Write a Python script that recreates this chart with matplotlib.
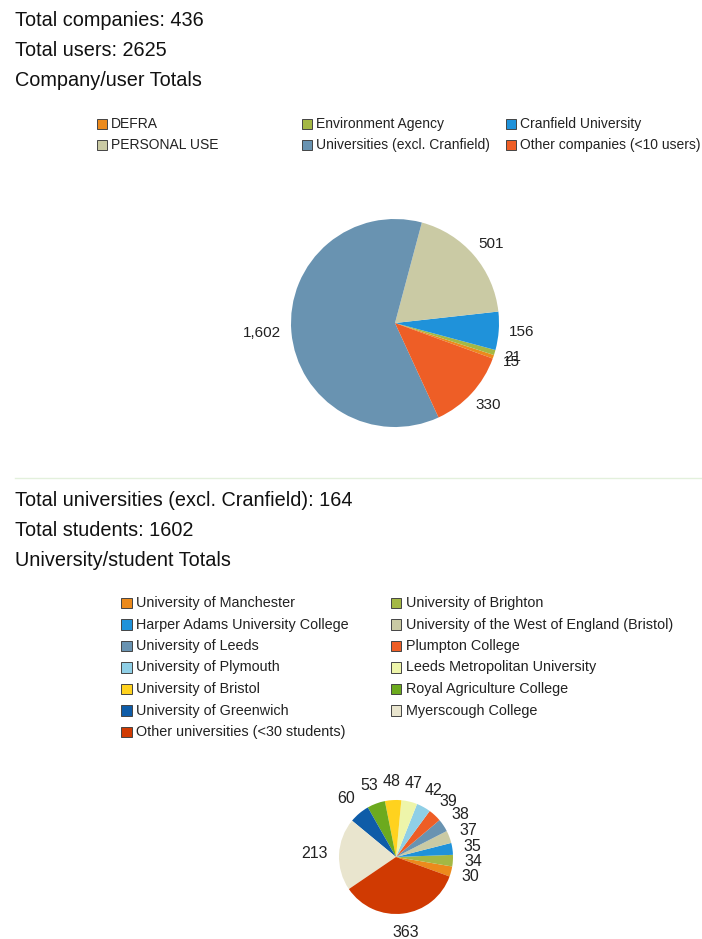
import numpy as np
import matplotlib
matplotlib.use("Agg")
import matplotlib.pyplot as plt
from matplotlib.patches import Rectangle
from matplotlib.lines import Line2D

plt.rcParams["font.family"] = ["Liberation Sans", "DejaVu Sans"]

W, H = 702, 939

# Company/user totals
company_names = ["DEFRA", "Environment Agency", "Cranfield University",
                 "PERSONAL USE", "Universities (excl. Cranfield)",
                 "Other companies (<10 users)"]
company_users = [15, 21, 156, 501, 1602, 330]
company_colors = ["#EC8A1C", "#A4B844", "#1F92DA", "#CACAA4", "#6993B1", "#EE5E26"]

# University/student totals
uni_names = ["University of Manchester", "University of Brighton",
             "Harper Adams University College", "University of the West of England (Bristol)",
             "University of Leeds", "Plumpton College",
             "University of Plymouth", "Leeds Metropolitan University",
             "University of Bristol", "Royal Agriculture College",
             "University of Greenwich", "Myerscough College",
             "Other universities (<30 students)"]
uni_students = [30, 34, 35, 37, 38, 39, 42, 47, 48, 53, 60, 213, 363]
uni_colors = ["#EC8A1C", "#A4B844", "#1F92DA", "#CACAA4", "#6993B1", "#EE5E26",
              "#8FCFE6", "#EEF5AA", "#FFD21E", "#6CAA1E", "#0E5CA8", "#E9E5CE", "#D03A02"]

fig = plt.figure(figsize=(W / 100, H / 100), dpi=100, facecolor="white")


def header(lines, y0):
    for i, s in enumerate(lines):
        fig.text(15 / W, 1 - (y0 + 30 * i) / H, s, fontsize=14.3, ha="left",
                 va="center", color="#111111")


def legend(names, colors, ncol, x0, colw, y0, rowh, fs, sq=10):
    for i, (name, c) in enumerate(zip(names, colors)):
        row, col = divmod(i, ncol)
        x = x0 + col * colw
        y = y0 + row * rowh
        fig.add_artist(Rectangle((x / W, 1 - (y + sq / 2) / H), sq / W, sq / H,
                                 transform=fig.transFigure, facecolor=c,
                                 edgecolor="#444444", lw=0.7))
        fig.text((x + sq + 4) / W, 1 - y / H, name, fontsize=fs, ha="left",
                 va="center", color="#222222")


def pie(cx, cy, r, values, colors, fs, ld):
    ax = fig.add_axes([(cx - r) / W, 1 - (cy + r) / H, 2 * r / W, 2 * r / H])
    wedges, texts = ax.pie(values, colors=colors, startangle=-20, counterclock=True,
                           labels=[f"{v:,}" for v in values], labeldistance=ld,
                           textprops=dict(fontsize=fs, color="#222222"),
                           wedgeprops=dict(linewidth=0))
    ax.set_xlim(-1, 1)
    ax.set_ylim(-1, 1)
    ax.axis("off")
    # label box sits just outside the circle, anchored on the side facing the pie
    fig.canvas.draw()
    for w, t in zip(wedges, texts):
        a = np.deg2rad((w.theta1 + w.theta2) / 2)
        bb = t.get_window_extent()
        t.set_position((ld * np.cos(a) + np.cos(a) * bb.width / 2 / r,
                        ld * np.sin(a) + np.sin(a) * bb.height / 2 / r))
        t.set_ha("center")
        t.set_va("center")
    return ax


header(["Total companies: 436", "Total users: 2625", "Company/user Totals"], 20)
legend(company_names, company_colors, 3, 97, 204.5, 124, 21, 10)
pie(395, 323, 104, company_users, company_colors, 11, 1.1)

fig.add_artist(Line2D([15 / W, 1], [1 - 478 / H, 1 - 478 / H],
                      transform=fig.transFigure, color="#E3F0DC", lw=1))

header(["Total universities (excl. Cranfield): 164", "Total students: 1602",
        "University/student Totals"], 500)
legend(uni_names, uni_colors, 2, 121, 270, 603, 21.5, 10.4, sq=10.5)
pie(396, 857, 57, uni_students, uni_colors, 11.5, 1.2)

fig.savefig("out.png", dpi=100, facecolor="white")
